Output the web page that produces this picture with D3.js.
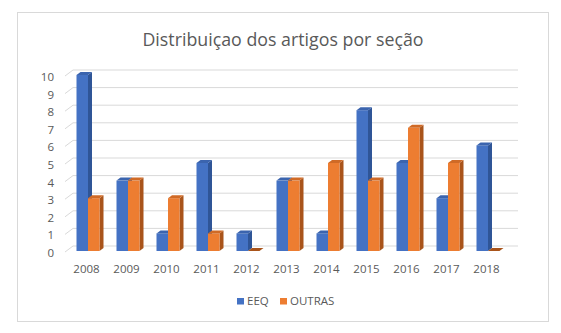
<!DOCTYPE html>
<html>
<head>
<meta charset="utf-8">
<script src="https://cdn.jsdelivr.net/npm/d3@7"></script>
<style>
  body { margin: 0; background: #fff; }
  text { font-family: "Open Sans", "Noto Sans", sans-serif; }
</style>
</head>
<body>
<div id="chart"></div>
<script>
var years = ["2008","2009","2010","2011","2012","2013","2014","2015","2016","2017","2018"];
var seriesNames = ["EEQ", "OUTRAS"];
var eeq = [10, 4, 1, 5, 1, 4, 1, 8, 5, 3, 6];
var outras = [3, 4, 3, 1, 0, 4, 5, 4, 7, 5, 0];
var yTicks = [0,1,2,3,4,5,6,7,8,9,10];

function init(){
    var w = 561, h = 333;
    var colors = {EEQ: ["#4472C4", "#2F5597", "#3B64AE"], OUTRAS: ["#ED7D31", "#A9541B", "#D06A26"]};
    var dx = 4, dy = 3;          // bar depth
    var wallDx = 8, wallDy = 5;  // back wall offset

    var svg = d3.select("#chart").append("svg")
        .attr("width", w).attr("height", h);

    // chart frame
    svg.append("rect")
        .attr("x", 17.5).attr("y", 12.5)
        .attr("width", 531).attr("height", 309)
        .attr("fill", "#fff").attr("stroke", "#D9D9D9");

    svg.append("text")
        .attr("x", 283).attr("y", 46)
        .attr("text-anchor", "middle")
        .attr("font-size", "17.8px")
        .attr("fill", "#595959")
        .text("Distribuiçao dos artigos por seção");

    var yScale = d3.scaleLinear().domain([0, 10]).range([251, 75]);

    var xScale = d3.scaleBand()
        .domain(years)
        .range([68, 508])
        .paddingInner(0.425)
        .paddingOuter(0.2125);

    var xSub = d3.scaleBand()
        .domain(seriesNames)
        .range([0, xScale.bandwidth()]);

    // gridlines: short diagonal + back wall line
    var grid = svg.append("g");
    grid.selectAll("path")
        .data(yTicks)
        .enter()
        .append("path")
        .attr("d", function(d){
            var y = yScale(d);
            return "M65," + (y + 1) + "L" + (65 + wallDx) + "," + (y - wallDy) + "L518," + (y - wallDy);
        })
        .attr("fill", "none")
        .attr("stroke", "#D9D9D9")
        .attr("stroke-width", 1);

    // y labels
    svg.append("g").selectAll("text")
        .data(yTicks)
        .enter()
        .append("text")
        .attr("x", 54)
        .attr("y", function(d){ return yScale(d) + 2; })
        .attr("dy", "0.35em")
        .attr("text-anchor", "end")
        .attr("font-size", "11.5px")
        .attr("fill", "#595959")
        .text(function(d){ return d; });

    // x labels
    svg.append("g").selectAll("text")
        .data(years)
        .enter()
        .append("text")
        .attr("x", function(d){ return xScale(d) + xScale.bandwidth()/2 - 1.5; })
        .attr("y", 272.5)
        .attr("text-anchor", "middle")
        .attr("font-size", "11.5px")
        .attr("fill", "#595959")
        .text(function(d){ return d; });

    // bars
    var rows = [];
    years.forEach(function(yr, i){
        rows.push({year: yr, s: "EEQ", v: eeq[i]});
        rows.push({year: yr, s: "OUTRAS", v: outras[i]});
    });

    var bw = xSub.bandwidth();
    var bars = svg.append("g").selectAll("g")
        .data(rows)
        .enter()
        .append("g")
        .attr("transform", function(d){ return "translate(" + (xScale(d.year) + xSub(d.s)) + ",0)"; });

    // side face
    bars.append("path")
        .attr("d", function(d){
            var y0 = yScale(0), y1 = yScale(d.v);
            return "M" + bw + "," + y1 + "L" + (bw + dx) + "," + (y1 - dy) +
                   "L" + (bw + dx) + "," + (y0 - dy) + "L" + bw + "," + y0 + "Z";
        })
        .attr("fill", function(d){ return colors[d.s][1]; });

    // front face
    bars.append("rect")
        .attr("x", 0)
        .attr("y", function(d){ return yScale(d.v); })
        .attr("width", bw)
        .attr("height", function(d){ return yScale(0) - yScale(d.v); })
        .attr("fill", function(d){ return colors[d.s][0]; });

    // top face
    bars.append("path")
        .attr("d", function(d){
            var y1 = yScale(d.v);
            return "M0," + y1 + "L" + dx + "," + (y1 - dy) + "L" + (bw + dx) + "," + (y1 - dy) +
                   "L" + bw + "," + y1 + "Z";
        })
        .attr("fill", function(d){ return colors[d.s][d.v === 0 ? 1 : 2]; });

    // legend
    var legend = svg.append("g");
    var items = [{name: "EEQ", x: 237}, {name: "OUTRAS", x: 280}];
    legend.selectAll("rect")
        .data(items)
        .enter()
        .append("rect")
        .attr("x", function(d){ return d.x; })
        .attr("y", 298)
        .attr("width", 7).attr("height", 6.5)
        .attr("fill", function(d){ return colors[d.name][0]; });
    legend.selectAll("text")
        .data(items)
        .enter()
        .append("text")
        .attr("x", function(d){ return d.x + 10; })
        .attr("y", 301)
        .attr("dy", "0.35em")
        .attr("font-size", "11.5px")
        .attr("fill", "#595959")
        .text(function(d){ return d.name; });
}

window.onload = init;
</script>
</body>
</html>
